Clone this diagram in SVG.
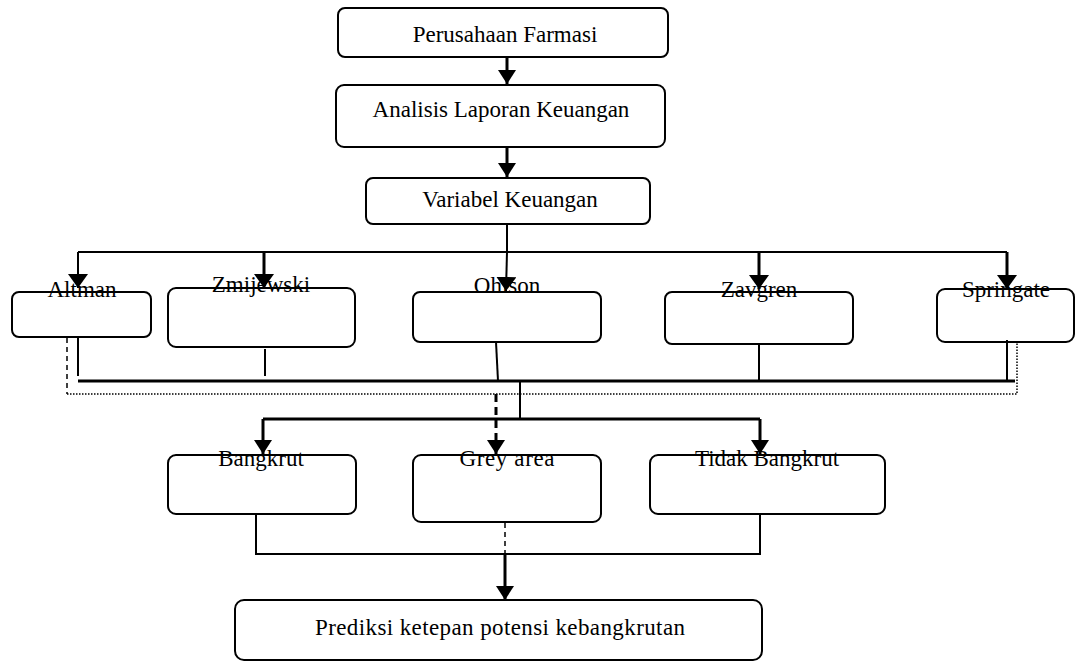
<svg xmlns="http://www.w3.org/2000/svg" width="1077" height="662" viewBox="0 0 1077 662">
<style>
.box{fill:#fff;stroke:#000;stroke-width:2}
.t{font-family:"Liberation Serif","Times New Roman",serif;font-size:23px;fill:#000;text-anchor:middle}
.ln{fill:none;stroke:#000;stroke-width:2}
.thick{fill:none;stroke:#000;stroke-width:3}
.dash{fill:none;stroke:#000;stroke-width:1.5;stroke-dasharray:5,4}
.dashT{fill:none;stroke:#000;stroke-width:3;stroke-dasharray:8,5}
.dot{fill:none;stroke:#000;stroke-width:1.5;stroke-dasharray:1.5,1.5}
</style>
<defs>
<marker id="ah" viewBox="0 0 14 18" refX="14" refY="9" markerWidth="14" markerHeight="18" markerUnits="userSpaceOnUse" orient="auto">
<path d="M0,0 L14,9 L0,18 z" fill="#000"/>
</marker>
<marker id="ahw" viewBox="0 0 14 20" refX="14" refY="10" markerWidth="14" markerHeight="20" markerUnits="userSpaceOnUse" orient="auto">
<path d="M0,0 L14,10 L0,20 z" fill="#000"/>
</marker>
</defs>
<rect width="1077" height="662" fill="#fff"/>

<g id="perusahaan"><rect class="box" x="338" y="8" width="330" height="49" rx="7"/><text class="t" x="505" y="42">Perusahaan Farmasi</text></g>
<g id="analisis"><rect class="box" x="336" y="85" width="329" height="62" rx="8"/><text class="t" x="501" y="117">Analisis Laporan Keuangan</text></g>
<g id="variabel"><rect class="box" x="366" y="178" width="284" height="46" rx="7"/><text class="t" x="510" y="207">Variabel Keuangan</text></g>

<g id="altman"><rect class="box" x="12" y="292" width="139" height="45" rx="7"/><text class="t" x="82" y="297">Altman</text></g>
<g id="zmijewski"><rect class="box" x="168" y="288" width="187" height="59" rx="8"/><text class="t" x="261" y="292">Zmijewski</text></g>
<g id="ohlson"><rect class="box" x="413" y="292" width="188" height="50" rx="7"/><text class="t" x="507" y="293">Ohlson</text></g>
<g id="zavgren"><rect class="box" x="665" y="292" width="188" height="52" rx="7"/><text class="t" x="759" y="297">Zavgren</text></g>
<g id="springate"><rect class="box" x="937" y="289" width="137" height="53" rx="8"/><text class="t" x="1006" y="297">Springate</text></g>

<g id="bangkrut"><rect class="box" x="168" y="455" width="188" height="59" rx="8"/><text class="t" x="261" y="466">Bangkrut</text></g>
<g id="grey"><rect class="box" x="413" y="455" width="188" height="67" rx="8"/><text class="t" x="507" y="466" textLength="95" lengthAdjust="spacing">Grey area</text></g>
<g id="tidak"><rect class="box" x="650" y="455" width="235" height="59" rx="8"/><text class="t" x="767" y="466">Tidak Bangkrut</text></g>

<g id="prediksi"><rect class="box" x="235" y="600" width="527" height="60" rx="9"/><text class="t" x="500" y="635" textLength="370" lengthAdjust="spacing">Prediksi ketepan potensi kebangkrutan</text></g>

<g id="connectors">
<line class="thick" x1="507" y1="57" x2="507" y2="84" marker-end="url(#ah)"/>
<line class="thick" x1="507" y1="147" x2="507" y2="177" marker-end="url(#ah)"/>
<line class="ln" x1="507" y1="224" x2="507" y2="252"/>
<line class="ln" x1="78" y1="252" x2="1007" y2="252"/>
<line class="ln" x1="78" y1="252" x2="78" y2="288" marker-end="url(#ahw)"/>
<line class="thick" x1="264" y1="252" x2="264" y2="288" marker-end="url(#ahw)"/>
<line class="ln" x1="507" y1="252" x2="506" y2="291" marker-end="url(#ahw)"/>
<line class="thick" x1="759" y1="252" x2="759" y2="289" marker-end="url(#ahw)"/>
<line class="thick" x1="1007" y1="252" x2="1007" y2="289" marker-end="url(#ahw)"/>

<line class="ln" x1="78" y1="337" x2="78" y2="376"/>
<line class="ln" x1="265" y1="349" x2="265" y2="376"/>
<line class="ln" x1="496" y1="342" x2="498" y2="381"/>
<line class="ln" x1="759" y1="344" x2="759" y2="381"/>
<line class="ln" x1="1007" y1="340" x2="1007" y2="381"/>
<line class="thick" x1="78" y1="381" x2="1015" y2="381"/>

<line class="dash" x1="67" y1="338" x2="67" y2="394"/>
<polyline class="dot" points="67,394 1017,394 1017,343"/>

<line class="ln" x1="520" y1="381" x2="520" y2="419"/>
<line class="thick" x1="263" y1="419" x2="760" y2="419"/>
<line class="thick" x1="263" y1="419" x2="263" y2="454" marker-end="url(#ah)"/>
<line class="dashT" x1="496" y1="394" x2="496" y2="454" marker-end="url(#ah)"/>
<line class="thick" x1="760" y1="419" x2="760" y2="454" marker-end="url(#ah)"/>

<polyline class="ln" points="256,514 256,554 760,554 760,514"/>
<line class="dash" x1="505" y1="523" x2="505" y2="554"/>
<line class="thick" x1="505" y1="554" x2="505" y2="600" marker-end="url(#ah)"/>
</g>
</svg>
